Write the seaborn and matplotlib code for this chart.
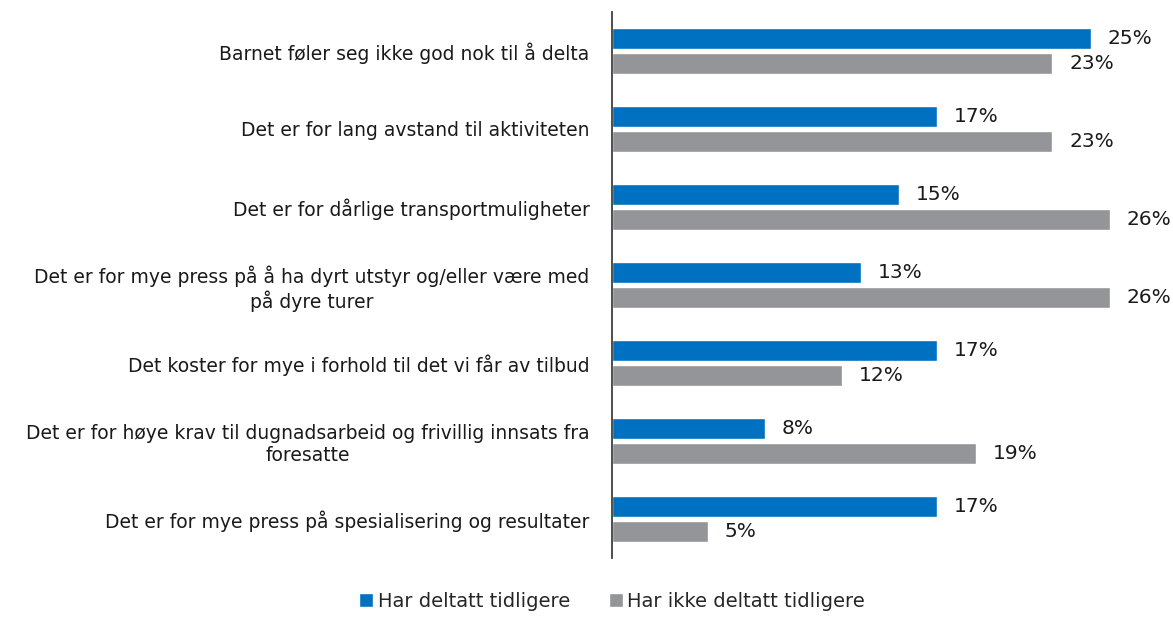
import pandas as pd
import matplotlib.pyplot as plt
import seaborn as sns
from matplotlib.patches import Patch

# Data lest av figuren
arsaker = [
    "Barnet føler seg ikke god nok til å delta",
    "Det er for lang avstand til aktiviteten",
    "Det er for dårlige transportmuligheter",
    "Det er for mye press på å ha dyrt utstyr og/eller være med\npå dyre turer",
    "Det koster for mye i forhold til det vi får av tilbud",
    "Det er for høye krav til dugnadsarbeid og frivillig innsats fra\nforesatte",
    "Det er for mye press på spesialisering og resultater",
]
grupper = ["Har deltatt tidligere", "Har ikke deltatt tidligere"]
deltatt = [25, 17, 15, 13, 17, 8, 17]
ikke_deltatt = [23, 23, 26, 26, 12, 19, 5]
farger = ["#0070C0", "#939598"]

df = pd.DataFrame({
    "arsak": arsaker * 2,
    "gruppe": [grupper[0]] * len(arsaker) + [grupper[1]] * len(arsaker),
    "andel": deltatt + ikke_deltatt,
})

sns.set_style("white")
plt.rcParams["font.family"] = ["DejaVu Sans"]

fig = plt.figure(figsize=(11.73, 6.17), dpi=100)
ax = fig.add_axes([0.5217, 0.0956, 0.4783, 0.885])

sns.barplot(data=df, y="arsak", x="andel", hue="gruppe", order=arsaker,
            hue_order=grupper, palette=farger, orient="h", width=0.64,
            gap=0.15, saturation=1, ax=ax, legend=False)

for cont in ax.containers:
    ax.bar_label(cont, fmt="%d%%", padding=12, fontsize=14.5, color="#1a1a1a")

ax.set_xlim(0, 29.3)
ax.set_ylim(6.5, -0.5)
ax.set_xlabel("")
ax.set_ylabel("")
ax.set_xticks([])
ax.tick_params(axis="y", length=0, pad=16, labelsize=13.5, labelcolor="#1a1a1a")
for lbl in ax.get_yticklabels():
    lbl.set_multialignment("center")

for side in ["top", "right", "bottom"]:
    ax.spines[side].set_visible(False)
ax.spines["left"].set_color("#404040")
ax.spines["left"].set_linewidth(1.3)

handles = [Patch(facecolor=farger[0]), Patch(facecolor=farger[1])]
fig.legend(handles, grupper, loc="lower center", bbox_to_anchor=(0.522, -0.018),
           ncol=2, frameon=False, fontsize=14, handlelength=0.7, handleheight=0.7,
           handletextpad=0.25, columnspacing=2.0)

fig.savefig("out.png", dpi=100)
